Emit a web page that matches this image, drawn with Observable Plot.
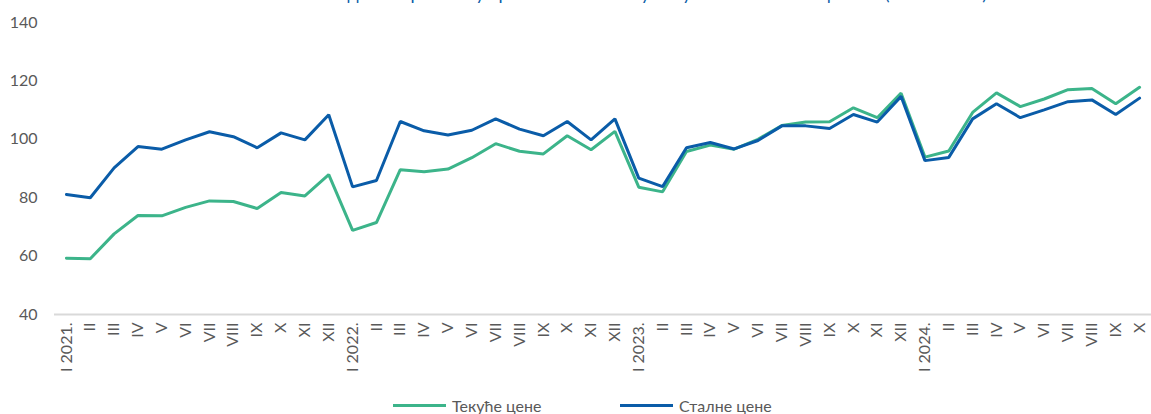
<!DOCTYPE html>
<html>
<head>
<meta charset="utf-8">
<script src="https://cdn.jsdelivr.net/npm/d3@7"></script>
<script src="https://cdn.jsdelivr.net/npm/@observablehq/plot@0.6"></script>
<style>
  html, body { margin: 0; padding: 0; background: #fff; }
  body { width: 1151px; height: 414px; overflow: hidden; position: relative; font-family: Lato, "Open Sans", sans-serif; }
  #title { position: absolute; left: 0; width: 1151px; top: -17px; height: 20px; overflow: hidden; }
  #title span { position: absolute; right: 164px; top: 0; font-size: 18px; line-height: 20px; color: #0a5ca8; white-space: nowrap; }
  #chart { position: absolute; left: 0; top: 0; }
  .legend { position: absolute; top: 396px; font-size: 16px; color: #595959; display: flex; align-items: center; white-space: nowrap; }
  .legend i { display: inline-block; width: 53px; height: 3px; margin-right: 6px; }
</style>
</head>
<body>
<div id="chart"></div>
<div id="title"><span>Индекси промета у трговини на мало у текућим и сталним ценама (2023 = 100)</span></div>
<div class="legend" style="left:393px"><i style="background:#3cb48a"></i>Текуће цене</div>
<div class="legend" style="left:620px"><i style="background:#0a5ca8"></i>Сталне цене</div>
<script>
const years = ["2021", "2022", "2023", "2024"];
const months = ["I", "II", "III", "IV", "V", "VI", "VII", "VIII", "IX", "X", "XI", "XII"];
const tekuce = [59.3, 59.1, 67.6, 73.9, 73.8, 76.7, 78.9, 78.7, 76.3, 81.8, 80.6, 87.9,
                68.8, 71.5, 89.6, 88.9, 89.8, 93.7, 98.5, 95.9, 95.0, 101.2, 96.4, 102.7,
                83.6, 82.0, 95.8, 98.0, 96.6, 100.0, 104.7, 105.9, 106.0, 110.8, 107.4, 115.8,
                93.9, 96.0, 109.2, 115.9, 111.2, 113.8, 117.0, 117.4, 112.2, 117.8];
const stalne = [81.1, 80.0, 90.2, 97.5, 96.6, 99.8, 102.6, 100.9, 97.1, 102.2, 99.8, 108.4,
                83.7, 85.9, 106.1, 102.9, 101.5, 103.1, 107.0, 103.5, 101.2, 106.1, 99.8, 107.0,
                86.7, 83.8, 97.1, 98.9, 96.7, 99.6, 104.6, 104.6, 103.7, 108.5, 105.9, 114.7,
                92.7, 93.8, 107.0, 112.2, 107.4, 110.1, 112.9, 113.5, 108.5, 114.1];
const yTicks = [40, 60, 80, 100, 120, 140];

const labels = tekuce.map((_, i) => {
  const m = i % 12, y = Math.floor(i / 12);
  return m === 0 ? `I ${years[y]}.` : months[m];
});
const idx = d3.range(tekuce.length);
const rows = idx.map(i => ({i, tekuce: tekuce[i], stalne: stalne[i]}));

const chart = Plot.plot({
  width: 1151,
  height: 392,
  marginTop: 22,
  marginBottom: 78,
  marginLeft: 54,
  marginRight: 0,
  style: {fontFamily: "Lato, 'Open Sans', sans-serif", fontSize: "16px", color: "#595959", background: "transparent"},
  x: {type: "band", domain: idx, padding: 0, tickFormat: i => labels[i], tickRotate: -90, tickSize: 0, tickPadding: 8, label: null},
  y: {domain: [40, 140], ticks: yTicks, tickSize: 0, tickPadding: 17, label: null},
  marks: [
    Plot.ruleY([40], {stroke: "#d9d9d9", strokeWidth: 2}),
    Plot.line(rows, {x: "i", y: "tekuce", stroke: "#3cb48a", strokeWidth: 3, strokeLinejoin: "miter"}),
    Plot.line(rows, {x: "i", y: "stalne", stroke: "#0a5ca8", strokeWidth: 3, strokeLinejoin: "miter"})
  ]
});
document.getElementById("chart").append(chart);
</script>
</body>
</html>
